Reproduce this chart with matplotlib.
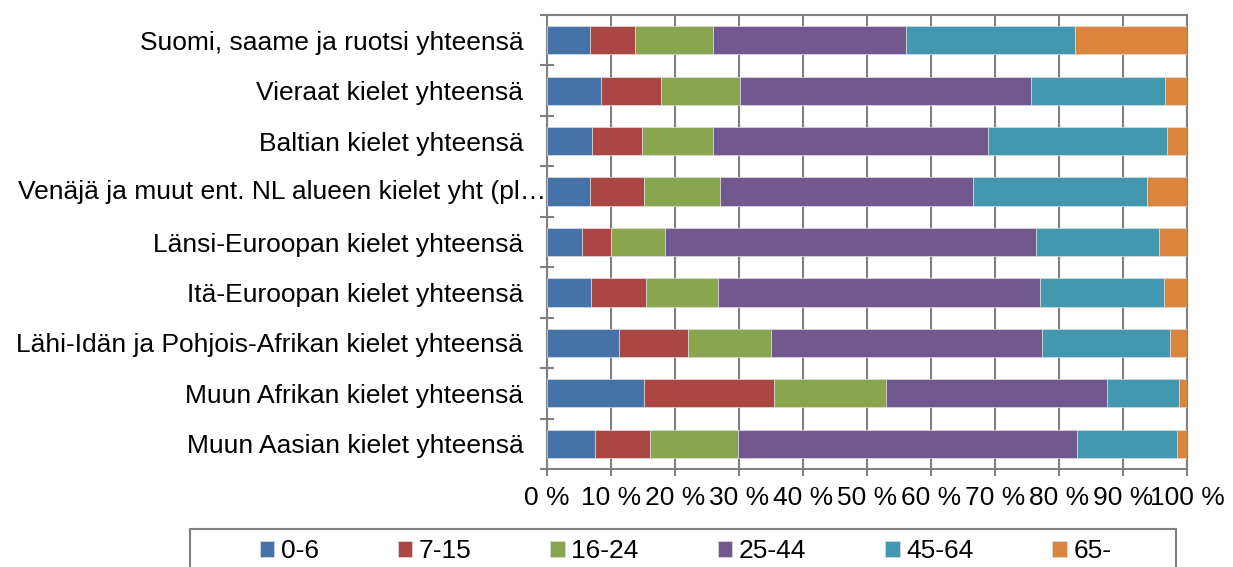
import matplotlib.pyplot as plt
import matplotlib.patches as mpatches
import numpy as np

plt.rcParams['font.family'] = ['Liberation Sans', 'DejaVu Sans']

# Data (shares in %), top row first

categories = ["Suomi, saame ja ruotsi yhteensä",
              "Vieraat kielet yhteensä",
              "Baltian kielet yhteensä",
              "Venäjä ja muut ent. NL alueen kielet yht (pl…",
              "Länsi-Euroopan kielet yhteensä",
              "Itä-Euroopan kielet yhteensä",
              "Lähi-Idän ja Pohjois-Afrikan kielet yhteensä",
              "Muun Afrikan kielet yhteensä",
              "Muun Aasian kielet yhteensä"]

age_groups = ["0-6", "7-15", "16-24", "25-44", "45-64", "65-"]

age_0_6 = [6.7, 8.4, 7.0, 6.7, 5.5, 6.9, 11.3, 15.2, 7.5]
age_7_15 = [7.1, 9.4, 7.8, 8.4, 4.5, 8.5, 10.8, 20.2, 8.6]
age_16_24 = [12.1, 12.3, 11.2, 11.9, 8.4, 11.4, 12.9, 17.5, 13.8]
age_25_44 = [30.2, 45.6, 42.9, 39.5, 58.0, 50.2, 42.4, 34.6, 52.9]
age_45_64 = [26.4, 20.8, 28.0, 27.2, 19.3, 19.4, 20.0, 11.2, 15.7]
age_65 = [17.5, 3.5, 3.1, 6.3, 4.3, 3.6, 2.6, 1.3, 1.5]

colors = ["#4572A7", "#AA4643", "#89A54E", "#71588F", "#4198AF", "#DB843D"]

series = [age_0_6, age_7_15, age_16_24, age_25_44, age_45_64, age_65]

fs = 19

# Plot

fig = plt.figure(figsize=(12.33, 5.67), dpi=100)
ax = fig.add_axes([0.4436, 0.1728, 0.5191, 0.8007])

y = np.arange(len(categories))
left = np.zeros(len(categories))
for vals, col, name in zip(series, colors, age_groups):
    ax.barh(y, vals, left=left, height=0.56, color=col, label=name,
            edgecolor="#dddddd", linewidth=0.5, zorder=3)
    left = left + np.array(vals)

ax.set_xlim(0, 100)
ax.set_ylim(len(categories) - 0.5, -0.5)

grid_col = "#808080"
ax.set_xticks(range(0, 101, 10))
ax.set_xticklabels([f"{v} %" for v in range(0, 101, 10)], fontsize=fs)
ax.xaxis.grid(True, color=grid_col, linewidth=1.5, zorder=0)
ax.tick_params(axis="x", direction="out", length=5, width=1.5, color=grid_col, pad=7)

ax.set_yticks(y)
labels = list(categories)
labels[3] = ""
ax.set_yticklabels(labels, fontsize=fs)
ax.tick_params(axis="y", which="major", length=0, pad=17)
ax.set_yticks(np.arange(-0.5, len(categories), 1), minor=True)
ax.tick_params(axis="y", which="minor", direction="inout", length=10, width=1.5, color=grid_col)

# truncated label runs up to the axis
ax.text(-0.001, 3, categories[3], transform=ax.get_yaxis_transform(),
        ha="right", va="center", fontsize=fs)

for s in ax.spines.values():
    s.set_color(grid_col)
    s.set_linewidth(1.5)

# Legend

leg = fig.legend(loc="center", bbox_to_anchor=(685.5 / 1233, 1 - 551 / 567),
                 ncol=6, frameon=False, fontsize=fs, handlelength=0.55,
                 handleheight=0.55, handletextpad=0.24, columnspacing=3.0)
fig.patches.append(mpatches.Rectangle((190 / 1233, -0.05), (1176 - 190) / 1233, 0.05 + 38 / 567,
                                      transform=fig.transFigure, fill=False,
                                      edgecolor=grid_col, linewidth=1.5))

fig.savefig("out.png", dpi=100)
